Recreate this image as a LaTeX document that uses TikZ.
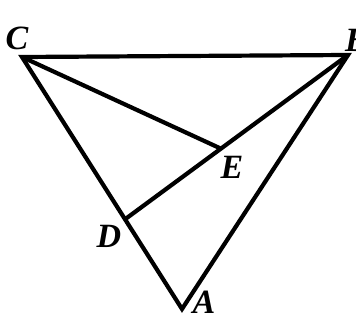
\documentclass[tikz,border=0pt]{standalone}
\usepackage{fontspec}
\setmainfont{Liberation Serif}
\usetikzlibrary{calc,positioning}

\begin{document}
\begin{tikzpicture}[x=1pt,y=-1pt,
  edge/.style={line width=4.2pt,line join=miter,line cap=butt},
  lbl/.style={font=\fontsize{34}{34}\selectfont\bfseries\itshape,inner sep=0pt}]
  \useasboundingbox (0,0) rectangle (356,320);
  % points
  \coordinate (C) at (22,57);
  \coordinate (B) at (348,55);
  \coordinate (A) at (182,309);
  \coordinate (D) at ($(C)!0.644!(A)$);
  \coordinate (E) at ($(D)!0.43!(B)$);
  % sides
  \draw[edge] (C) -- (B) -- (A) -- cycle;
  \draw[edge] (D) -- (B);
  \draw[edge] (C) -- (E);
  % labels
  \node[lbl] (lC) at (17,38) {C};
  \node[lbl,anchor=west] (lB) at (345,40) {B};
  \node[lbl] (lE) at (232,167) {E};
  \node[lbl] (lD) at (109,236) {D};
  \node[lbl] (lA) at (204,302) {A};
\end{tikzpicture}
\end{document}
